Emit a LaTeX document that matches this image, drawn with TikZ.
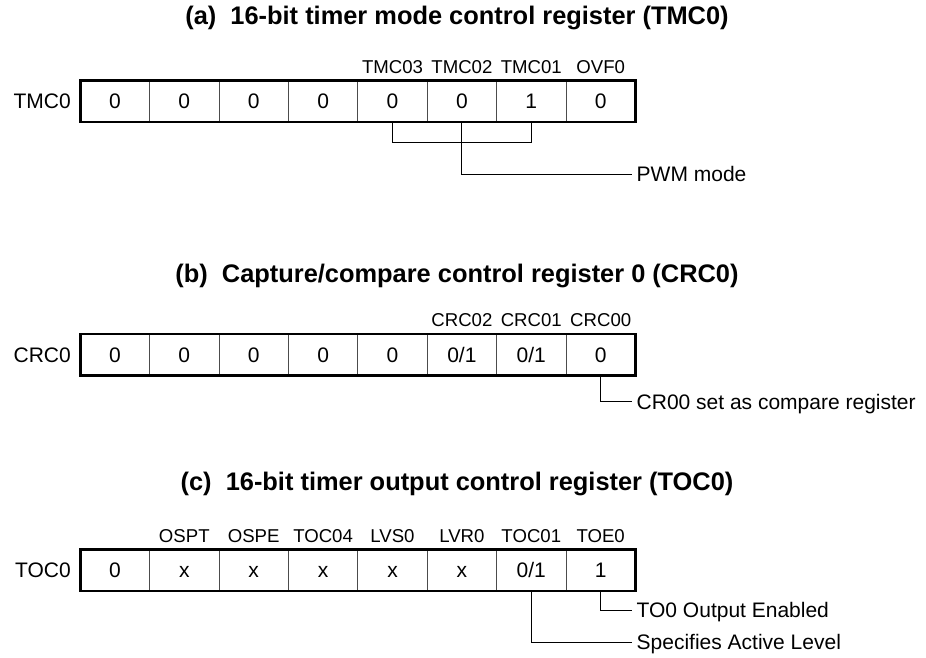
\documentclass[tikz,border=0pt]{standalone}
\usepackage{fontspec}
\setmainfont{Liberation Sans}
\begin{document}
\begin{tikzpicture}[x=1pt,y=-1pt,
  cell/.style={draw=black!70, line width=0.9pt, minimum width=69.4pt, minimum height=41.5pt,
    inner sep=0pt, outer sep=0pt, font=\fontsize{21}{21}\selectfont, text height=15pt, text depth=0pt},
  regname/.style={anchor=east, inner sep=0pt, font=\fontsize{21}{21}\selectfont, text height=15pt, text depth=0pt},
  bitlbl/.style={anchor=base, inner sep=0pt, font=\fontsize{18.6}{18.6}\selectfont},
  ttl/.style={anchor=base, inner sep=0pt, font=\bfseries\fontsize{25.4}{25.4}\selectfont},
  annot/.style={anchor=west, inner xsep=4.5pt, inner ysep=0pt, font=\fontsize{21}{21}\selectfont,
    text height=15pt, text depth=0pt},
  frame/.style={line width=2.6pt},
  conn/.style={line width=1pt}]
\useasboundingbox (0,0) rectangle (926,658);

% ---------- (a) ----------
\node[ttl] (ta) at (457,25) {(a)\ \ 16-bit timer mode control register (TMC0)};
\foreach \v [count=\i] in {0,0,0,0,0,0,1,0}
  \node[cell] (a\i) at ({80.2+69.4*(\i-0.5)},101.25) {\v};
\draw[frame] (a1.north west) rectangle (a8.south east);
\node[regname] (na) at (71,101.25) {TMC0};
\node[bitlbl] (la5) at ([yshift=7.2pt]a5.north) {TMC03};
\node[bitlbl] (la6) at ([yshift=7.2pt]a6.north) {TMC02};
\node[bitlbl] (la7) at ([yshift=7.2pt]a7.north) {TMC01};
\node[bitlbl] (la8) at ([yshift=7.2pt]a8.north) {OVF0};
\coordinate (brA) at (462,142.3);
\draw[conn] (a5.south) |- (brA) -| (a7.south);
\node[annot] (pwm) at (632,174.3) {PWM mode};
\draw[conn] (a6.south) |- (pwm.west);

% ---------- (b) ----------
\node[ttl] (tb) at (457,282.3) {(b)\ \ Capture/compare control register 0 (CRC0)};
\foreach \v [count=\i] in {0,0,0,0,0,0/1,0/1,0}
  \node[cell] (b\i) at ({80.2+69.4*(\i-0.5)},354.7) {\v};
\draw[frame] (b1.north west) rectangle (b8.south east);
\node[regname] (nb) at (71,354.7) {CRC0};
\node[bitlbl] (lb6) at ([yshift=7.2pt]b6.north) {CRC02};
\node[bitlbl] (lb7) at ([yshift=7.2pt]b7.north) {CRC01};
\node[bitlbl] (lb8) at ([yshift=7.2pt]b8.north) {CRC00};
\node[annot] (cr) at (632,401.7) {CR00 set as compare register};
\draw[conn] (b8.south) |- (cr.west);

% ---------- (c) ----------
\node[ttl] (tc) at (457,490.7) {(c)\ \ 16-bit timer output control register (TOC0)};
\foreach \v [count=\i] in {0,x,x,x,x,x,0/1,1}
  \node[cell] (c\i) at ({80.2+69.4*(\i-0.5)},570.25) {\v};
\draw[frame] (c1.north west) rectangle (c8.south east);
\node[regname] (nc) at (71,570.25) {TOC0};
\node[bitlbl] (lc2) at ([yshift=6.8pt]c2.north) {OSPT};
\node[bitlbl] (lc3) at ([yshift=6.8pt]c3.north) {OSPE};
\node[bitlbl] (lc4) at ([yshift=6.8pt]c4.north) {TOC04};
\node[bitlbl] (lc5) at ([yshift=6.8pt]c5.north) {LVS0};
\node[bitlbl] (lc6) at ([yshift=6.8pt]c6.north) {LVR0};
\node[bitlbl] (lc7) at ([yshift=6.8pt]c7.north) {TOC01};
\node[bitlbl] (lc8) at ([yshift=6.8pt]c8.north) {TOE0};
\node[annot] (toe) at (632,610.3) {TO0 Output Enabled};
\draw[conn] (c8.south) |- (toe.west);
\node[annot] (act) at (632,642.3) {Specifies Active Level};
\draw[conn] (c7.south) |- (act.west);
\end{tikzpicture}
\end{document}
